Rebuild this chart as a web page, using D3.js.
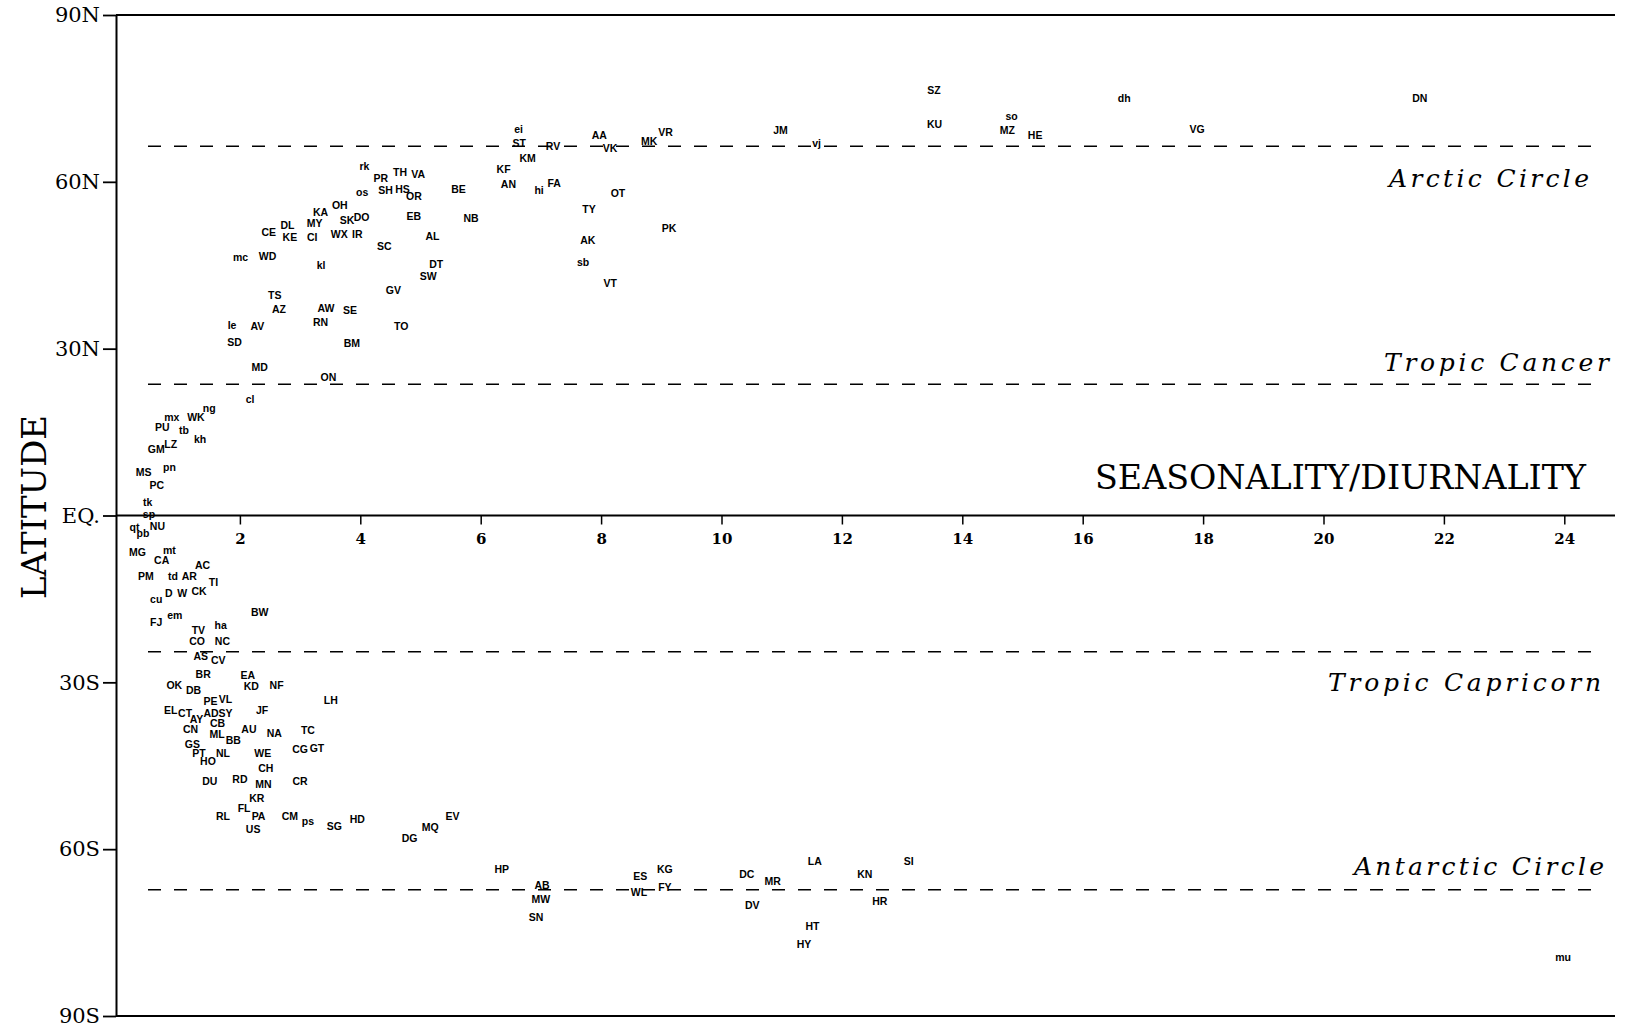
<!DOCTYPE html>
<html>
<head>
<meta charset="utf-8">
<script src="https://cdn.jsdelivr.net/npm/d3@7"></script>
<style>
  body { margin: 0; background: #fff; }
  svg { display: block; }
</style>
</head>
<body>
<div id="chart"></div>
<script>
// station codes, with the seasonality/diurnality ratio and the latitude of each
const stations = [
    "SZ","KU","so","MZ","HE","dh","DN","VG","JM","vj",
    "ei","ST","RV","KM","KF","AN","hi","FA","AA","VK","MK","VR","OT","TY","AK","sb","VT","PK","BE","NB","AL","DT","SW",
    "rk","PR","TH","VA","os","SH","HS","OR","OH","KA","SK","DO","EB","DL","MY","CE","KE","CI","WX","IR","SC","mc","WD",
    "kl","GV","TS","AZ","AW","SE","RN","le","AV","TO","SD","BM","MD","ON","cl",
    "ng","mx","WK","PU","tb","kh","GM","LZ","MS","pn","PC","tk","sp","qt","pb","NU",
    "MG","mt","CA","AC","PM","td","AR","TI","cu","D","W","CK","FJ","em","BW","TV","ha","CO","NC","AS","CV","BR","EA",
    "OK","DB","KD","NF","PE","VL","LH","EL","CT","AY","AD","SY","JF","CB","CN","AU","NA","TC","ML","BB","GS","PT","NL",
    "HO","WE","CG","GT","CH","DU","RD","MN","CR","KR","FL","RL","PA","US","CM","ps","SG","HD","DG","MQ","EV",
    "HP","AB","MW","SN","ES","KG","WL","FY","DC","MR","DV","LA","HT","HY","KN","HR","SI","mu"
];

const ratio = [
    13.53,13.54,14.82,14.75,15.21,16.69,21.60,17.90,10.98,11.58,
    6.63,6.64,7.20,6.78,6.38,6.46,6.97,7.22,7.97,8.15,8.80,9.07,8.28,7.80,7.78,7.70,8.15,9.13,5.63,5.84,5.20,5.26,5.13,
    4.07,4.34,4.66,4.96,4.03,4.42,4.70,4.89,3.66,3.34,3.78,4.02,4.89,2.79,3.24,2.48,2.83,3.20,3.65,3.95,4.40,2.01,2.46,
    3.35,4.55,2.58,2.65,3.43,3.83,3.34,1.87,2.29,4.68,1.91,3.86,2.33,3.47,2.17,
    1.49,0.87,1.27,0.71,1.07,1.34,0.61,0.85,0.40,0.83,0.62,0.47,0.49,0.25,0.39,0.63,
    0.30,0.83,0.70,1.38,0.44,0.89,1.16,1.56,0.61,0.82,1.04,1.32,0.61,0.92,2.33,1.31,1.68,1.29,1.71,1.35,1.64,1.39,2.13,
    0.91,1.23,2.19,2.61,1.51,1.76,3.51,0.85,1.09,1.28,1.52,1.76,2.37,1.63,1.18,2.15,2.57,3.13,1.62,1.89,1.21,1.32,1.72,
    1.47,2.38,3.00,3.28,2.43,1.50,2.00,2.39,3.00,2.28,2.07,1.72,2.31,2.22,2.83,3.13,3.57,3.95,4.82,5.16,5.53,
    6.35,7.02,7.00,6.92,8.65,9.06,8.63,9.06,10.42,10.85,10.51,11.55,11.51,11.37,12.38,12.63,13.11,23.98
];

const latitude = [
    76.5,70.3,71.8,69.2,68.3,75.1,75.0,69.4,69.3,67.0,
    69.5,66.9,66.4,64.2,62.3,59.5,58.5,59.7,68.3,66.0,67.3,68.9,57.9,55.1,49.5,45.5,41.7,51.6,58.7,53.4,50.2,45.1,43.0,
    62.8,60.6,61.8,61.4,58.2,58.5,58.7,57.4,55.8,54.6,53.1,53.6,53.8,52.2,52.5,51.0,50.0,50.1,50.5,50.5,48.4,46.5,46.6,
    45.0,40.5,39.6,37.1,37.2,37.0,34.8,34.3,34.0,34.0,31.2,30.9,26.6,24.9,21.0,
    19.3,17.6,17.7,15.8,15.4,13.8,12.0,12.9,7.7,8.7,5.4,2.4,0.2,-2.1,-3.2,-2.0,
    -6.6,-6.3,-8.1,-9.0,-11.0,-11.0,-11.0,-12.0,-15.1,-14.0,-14.0,-13.7,-19.1,-18.0,-17.4,-20.7,-19.8,-22.6,-22.6,-25.3,-26.1,-28.5,-28.7,
    -30.6,-31.4,-30.7,-30.6,-33.4,-33.0,-33.3,-35.0,-35.6,-36.6,-35.6,-35.5,-35.1,-37.4,-38.4,-38.5,-39.2,-38.6,-39.3,-40.4,-41.2,-42.8,-42.8,
    -44.2,-42.7,-42.1,-41.9,-45.4,-47.7,-47.5,-48.3,-47.7,-50.9,-52.7,-54.0,-54.0,-56.4,-54.0,-54.9,-55.8,-54.6,-58.1,-56.0,-54.0,
    -63.6,-66.4,-69.0,-72.2,-64.9,-63.6,-67.7,-66.8,-64.5,-65.7,-70.1,-62.2,-73.8,-77.0,-64.5,-69.3,-62.2,-79.4
];

// reference latitude lines
const circleNames = ["Arctic Circle", "Tropic Cancer", "Tropic Capricorn", "Antarctic Circle"];
const circleLats = [66.4, 23.6, -24.5, -67.3];

// axis ticks
const latTicks = [90, 60, 30, 0, -30, -60, -90];
const latTickLabels = ["90N", "60N", "30N", "EQ.", "30S", "60S", "90S"];
const ratioTicks = [2, 4, 6, 8, 10, 12, 14, 16, 18, 20, 22, 24];

const width = 1625, height = 1028;
const axisLeftX = 116, rightEdge = 1615;

const svg = d3.select("#chart").append("svg")
    .attr("width", width)
    .attr("height", height);

const x = d3.scaleLinear().domain([0, 25]).range([119.5, 1624.5]);
const y = d3.scaleLinear().domain([-90, 90]).range([1016, 15]);

// horizontal frame lines: 90N, equator, 90S
svg.selectAll("line.frame")
    .data([90, 0, -90])
    .enter()
    .append("line")
    .attr("class", "frame")
    .attr("x1", axisLeftX)
    .attr("x2", rightEdge)
    .attr("y1", d => y(d))
    .attr("y2", d => y(d))
    .attr("stroke", "#000")
    .attr("stroke-width", 1.8);

// Y axis (latitude)
const yAxis = svg.append("g")
    .attr("transform", `translate(${axisLeftX},0)`)
    .call(d3.axisLeft(y)
        .tickValues(latTicks)
        .tickFormat(d => latTickLabels[latTicks.indexOf(d)])
        .tickSize(13)
        .tickSizeOuter(0)
        .tickPadding(3));
yAxis.select(".domain").attr("stroke-width", 2);
yAxis.selectAll(".tick line").attr("stroke-width", 1.8);
yAxis.selectAll("text")
    .style("font-family", "'DejaVu Serif', serif")
    .style("font-size", "21px")
    .attr("fill", "#000");

// X axis sits on the equator
const xAxis = svg.append("g")
    .attr("transform", `translate(0,${y(0)})`)
    .call(d3.axisBottom(x)
        .tickValues(ratioTicks)
        .tickFormat(d3.format("d"))
        .tickSize(9)
        .tickPadding(9));
xAxis.select(".domain").remove();
xAxis.selectAll(".tick line").attr("stroke-width", 1.5);
xAxis.selectAll("text")
    .style("font-family", "'DejaVu Serif', serif")
    .style("font-size", "15px")
    .style("font-weight", "bold")
    .attr("fill", "#000");

// dashed circles and tropics
svg.selectAll("line.circle")
    .data(circleLats)
    .enter()
    .append("line")
    .attr("class", "circle")
    .attr("x1", 148)
    .attr("x2", 1592)
    .attr("y1", d => y(d))
    .attr("y2", d => y(d))
    .attr("stroke", "#000")
    .attr("stroke-width", 1.3)
    .attr("stroke-dasharray", "13,13");

// label placement for the circle names (offset from line, right edge, width)
const circleLabelLayout = [
    { dy: 31.5, right: 1589, len: 200 },
    { dy: -22, right: 1609, len: 225 },
    { dy: 30.5, right: 1601, len: 273 },
    { dy: -24, right: 1604, len: 250 }
];
svg.selectAll("text.circle-label")
    .data(circleNames)
    .enter()
    .append("text")
    .attr("class", "circle-label")
    .attr("x", (d, i) => circleLabelLayout[i].right)
    .attr("y", (d, i) => y(circleLats[i]) + circleLabelLayout[i].dy + 9)
    .attr("text-anchor", "end")
    .attr("textLength", (d, i) => circleLabelLayout[i].len)
    .attr("lengthAdjust", "spacing")
    .style("font-family", "'DejaVu Serif', serif")
    .style("font-style", "italic")
    .style("font-size", "25px")
    .text(d => d);

// station labels
const points = stations.map((s, i) => ({ code: s, ratio: ratio[i], lat: latitude[i] }));
svg.selectAll("text.station")
    .data(points)
    .enter()
    .append("text")
    .attr("class", "station")
    .attr("x", d => x(d.ratio))
    .attr("y", d => y(d.lat) + 3.8)
    .attr("text-anchor", "middle")
    .style("font-family", "'Liberation Sans', Arial, sans-serif")
    .style("font-size", "10.5px")
    .style("font-weight", "bold")
    .text(d => d.code);

// axis titles
svg.append("text")
    .attr("x", 1095)
    .attr("y", 489)
    .attr("textLength", 491)
    .attr("lengthAdjust", "spacingAndGlyphs")
    .style("font-family", "'DejaVu Serif', serif")
    .style("font-size", "33px")
    .text("SEASONALITY/DIURNALITY");

svg.append("text")
    .attr("transform", "translate(46,507) rotate(-90)")
    .attr("text-anchor", "middle")
    .attr("textLength", 184)
    .attr("lengthAdjust", "spacingAndGlyphs")
    .style("font-family", "'DejaVu Serif', serif")
    .style("font-size", "33px")
    .text("LATITUDE");
</script>
</body>
</html>
